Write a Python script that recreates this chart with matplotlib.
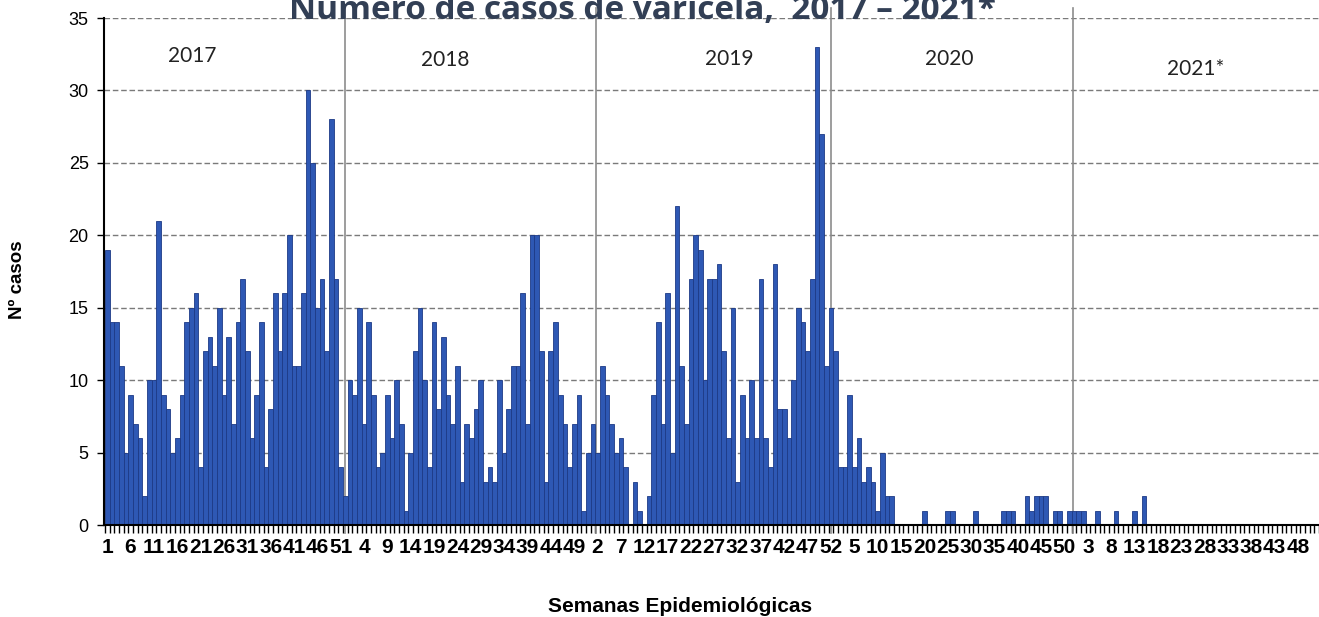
import numpy as np
import matplotlib
matplotlib.use("Agg")
from matplotlib import pyplot as plt

# casos semanais de varicela
casos_2017 = [19, 14, 14, 11, 5, 9, 7, 6, 2, 10, 10, 21, 9, 8, 5, 6, 9, 14, 15, 16,
              4, 12, 13, 11, 15, 9, 13, 7, 14, 17, 12, 6, 9, 14, 4, 8, 16, 12, 16, 20,
              11, 11, 16, 30, 25, 15, 17, 12, 28, 17, 4, 2]
casos_2018 = [10, 9, 15, 7, 14, 9, 4, 5, 9, 6, 10, 7, 1, 5, 12, 15, 10, 4, 14, 8,
              13, 9, 7, 11, 3, 7, 6, 8, 10, 3, 4, 3, 10, 5, 8, 11, 11, 16, 7, 20,
              20, 12, 3, 12, 14, 9, 7, 4, 7, 9, 1, 5]
casos_2019 = [7, 5, 11, 9, 7, 5, 6, 4, 0, 3, 1, 0, 2, 9, 14, 7, 16, 5, 22, 11,
              7, 17, 20, 19, 10, 17, 17, 18, 12, 6, 15, 3, 9, 6, 10, 6, 17, 6, 4, 18,
              8, 8, 6, 10, 15, 14, 12, 17, 33, 27, 11, 15]
casos_2020 = [12, 4, 4, 9, 4, 6, 3, 4, 3, 1, 5, 2, 2, 0, 0, 0, 0, 0, 0, 1,
              0, 0, 0, 0, 1, 1, 0, 0, 0, 0, 1, 0, 0, 0, 0, 0, 1, 1, 1, 0,
              0, 2, 1, 2, 2, 2, 0, 1, 1, 0, 1, 1]
casos_2021 = [1, 1, 0, 0, 1, 0, 0, 0, 1, 0, 0, 0, 1, 0, 2, 0, 0, 0, 0, 0,
              0, 0, 0, 0, 0, 0, 0, 0, 0, 0, 0, 0, 0, 0, 0, 0, 0, 0, 0, 0,
              0, 0, 0, 0, 0, 0, 0, 0, 0, 0, 0, 0]

anos = ['2017', '2018', '2019', '2020', '2021*']
# posição (semana, casos) dos rótulos de ano e das linhas divisórias
pos_anos = [(18.2, 32.4), (72.3, 32.1), (133.2, 32.2), (180.4, 32.2), (233.0, 31.5)]
divisorias = [50.9, 104.6, 155.1, 206.9]


def main():
    casos = casos_2017 + casos_2018 + casos_2019 + casos_2020 + casos_2021
    semanas = []
    for serie in [casos_2017, casos_2018, casos_2019, casos_2020, casos_2021]:
        semanas += list(range(1, len(serie) + 1))
    x = np.arange(len(casos))

    fig = plt.figure(figsize=(13.19, 6.17), dpi=100)
    ax = fig.add_axes([0.0788, 0.1491, 0.9212, 0.8217])

    ax.bar(x, casos, width=1.0, color='#2E58B4', edgecolor='#1D3A86', linewidth=0.6, zorder=2)

    ax.set_xlim(-0.7, 256.6)
    ax.set_ylim(0, 35)

    # grade tracejada
    ax.set_yticks(np.arange(0, 36, 5))
    ax.yaxis.grid(True, linestyle=(0, (4, 2)), color='#7a7a7a', linewidth=1.0, zorder=0)
    ax.set_axisbelow(True)

    for sp in ['top', 'right']:
        ax.spines[sp].set_visible(False)
    ax.spines['left'].set_linewidth(1.5)
    ax.spines['bottom'].set_linewidth(1.5)

    # eixo x: rótulo a cada 5 semanas, marca em cada semana
    ax.set_xticks(x[::5])
    ax.set_xticklabels([str(s) for s in semanas[::5]], fontsize=15, fontweight='bold',
                       family='Liberation Sans')
    ax.set_xticks(np.arange(-0.5, len(casos), 1), minor=True)
    ax.tick_params(axis='x', which='major', length=0, pad=9)
    ax.tick_params(axis='x', which='minor', length=6, width=1, color='black')
    ax.tick_params(axis='y', length=5, width=1, pad=6, labelsize=13)
    for lb in ax.get_yticklabels():
        lb.set_family('Liberation Sans')

    for xv in divisorias:
        ax.axvline(xv, ymin=-0.015, ymax=1.02, color='#8c8c8c', linewidth=1.2, zorder=1, clip_on=False)

    for ano, (px, py) in zip(anos, pos_anos):
        ax.text(px, py, ano, fontsize=15, family='Lato', color='#222222', ha='center', va='center')

    fig.text(0.487, 0.969, 'Número de casos de varicela,  2017 – 2021*', fontsize=24,
             fontweight='bold', family='Open Sans', color='#323F55', ha='center', va='baseline')
    fig.text(0.0136, 0.546, 'Nº casos', rotation=90, fontsize=13.5, fontweight='bold',
             family='Liberation Sans', ha='center', va='center')
    fig.text(0.5155, 0.008, 'Semanas Epidemiológicas', fontsize=15, fontweight='bold',
             family='Liberation Sans', ha='center', va='baseline')

    fig.savefig('out.png', dpi=100)


if __name__ == "__main__":
    main()
